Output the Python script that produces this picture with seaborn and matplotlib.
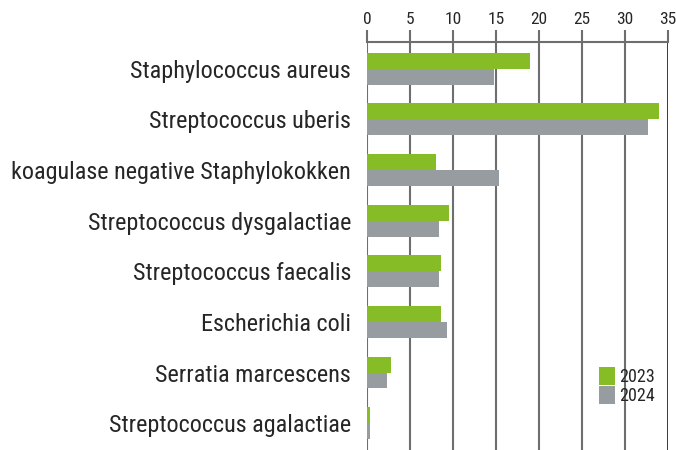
import pandas as pd
import numpy as np
import matplotlib
matplotlib.use('Agg')
import matplotlib.pyplot as plt
import seaborn as sns
from matplotlib import font_manager

erreger = ['Staphylococcus aureus', 'Streptococcus uberis',
           'koagulase negative Staphylokokken', 'Streptococcus dysgalactiae',
           'Streptococcus faecalis', 'Escherichia coli',
           'Serratia marcescens', 'Streptococcus agalactiae']
werte_2023 = [19.0, 34.0, 8.0, 9.5, 8.6, 8.6, 2.8, 0.35]
werte_2024 = [14.8, 32.7, 15.3, 8.4, 8.4, 9.3, 2.3, 0.35]
jahre = ['2023', '2024']
farben = ['#86bc25', '#979ca0']
ticks = [0, 5, 10, 15, 20, 25, 30, 35]

df = pd.DataFrame({
    'Erreger': erreger * 2,
    'Wert': werte_2023 + werte_2024,
    'Jahr': [jahre[0]] * len(erreger) + [jahre[1]] * len(erreger),
})

sns.set_style('white')
names = {f.name for f in font_manager.fontManager.ttflist}
fam = [f for f in ['Liberation Sans Narrow', 'Roboto Condensed', 'Roboto'] if f in names]
plt.rcParams['font.family'] = fam + ['DejaVu Sans']

fig = plt.figure(figsize=(6.76, 4.5), dpi=100)
ax = fig.add_axes([0.543, 0.0, 0.445, 0.907])

sns.barplot(data=df, x='Wert', y='Erreger', hue='Jahr', orient='h',
            palette=farben, width=0.63, saturation=1, linewidth=0,
            ax=ax, zorder=3)

ax.set_xlim(0, 35)
ax.set_ylim(7.53, -0.53)
ax.set_xticks(ticks)
ax.xaxis.tick_top()
ax.tick_params(axis='x', top=True, bottom=False, length=9, width=1.5,
               color='#6e6e6e', labelsize=12.5, pad=2)
ax.tick_params(axis='y', left=False, labelsize=17.4, pad=8)
ax.set_xlabel('')
ax.set_ylabel('')
for t in ticks[:-1]:
    ax.axvline(t, color='#6e6e6e', lw=1.5, zorder=1)
ax.axvline(35, color='black', lw=1.8, zorder=1)
for s in ['left', 'right', 'bottom']:
    ax.spines[s].set_visible(False)
ax.spines['top'].set_color('#6e6e6e')
ax.spines['top'].set_linewidth(1.5)

ax.legend(loc='lower left', bbox_to_anchor=(0.77, 0.11), frameon=False,
          fontsize=13, handlelength=0.9, handleheight=1.1, labelspacing=0.0,
          handletextpad=0.25, borderaxespad=0, borderpad=0)

fig.savefig('out.png', dpi=100)
